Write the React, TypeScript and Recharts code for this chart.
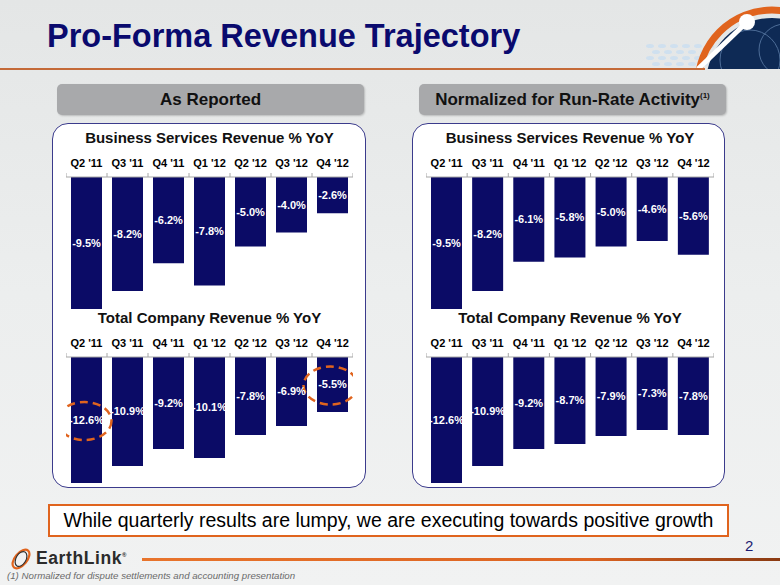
import React from "react"
import { BarChart, Bar, XAxis, YAxis, LabelList, ReferenceDot } from "recharts"

const quarters = ["Q2 '11", "Q3 '11", "Q4 '11", "Q1 '12", "Q2 '12", "Q3 '12", "Q4 '12"]
const reportedBusiness = [-9.5, -8.2, -6.2, -7.8, -5.0, -4.0, -2.6]
const reportedTotal = [-12.6, -10.9, -9.2, -10.1, -7.8, -6.9, -5.5]
const normalizedBusiness = [-9.5, -8.2, -6.1, -5.8, -5.0, -4.6, -5.6]
const normalizedTotal = [-12.6, -10.9, -9.2, -8.7, -7.9, -7.3, -7.8]
const reportedTotalHighlights = ["Q2 '11", "Q4 '12"]

const FONT = "Arial, 'Liberation Sans', sans-serif"
const NAVY = "#0b0b66"
const ORANGE = "#e0641e"

const toRows = (values: number[]) => quarters.map((quarter, i) => ({ quarter, value: values[i] }))

function QuarterTick(props: any) {
  const { x, y, payload, index, band, count } = props
  const axisY = y + 10
  return (
    <g>
      <text x={x} y={y} textAnchor="middle" fontSize={11} fontWeight="bold" fill="#000" fontFamily={FONT}>
        {payload.value}
      </text>
      <line x1={x - band / 2} x2={x - band / 2} y1={axisY} y2={axisY - 4} stroke="#a6a6a6" />
      {index === count - 1 && (
        <line x1={x + band / 2} x2={x + band / 2} y1={axisY} y2={axisY - 4} stroke="#a6a6a6" />
      )}
    </g>
  )
}

function DashedRing(props: any) {
  const { cx, cy } = props
  return (
    <ellipse cx={cx - 2} cy={cy + 1} rx={27} ry={19} fill="none" stroke={ORANGE} strokeWidth={2.5} strokeDasharray="8 5" />
  )
}

interface YoYChartProps {
  title: string
  values: number[]
  min: number
  plotHeight: number
  left: number
  axisY: number
  width: number
  highlights?: string[]
}

function YoYChart({ title, values, min, plotHeight, left, axisY, width, highlights = [] }: YoYChartProps) {
  const rows = toRows(values)
  const band = width / quarters.length
  return (
    <>
      <div
        style={{
          position: "absolute",
          left: left - 20,
          width: width + 40,
          top: axisY - 48,
          textAlign: "center",
          fontFamily: FONT,
          fontWeight: "bold",
          fontSize: 15,
          lineHeight: "18px",
          color: "#111",
        }}
      >
        {title}
      </div>
      <div style={{ position: "absolute", left, top: axisY - 30 }}>
        <BarChart width={width} height={plotHeight + 30} data={rows} margin={{ top: 0, right: 0, bottom: 0, left: 0 }} barSize={31}>
          <XAxis
            dataKey="quarter"
            orientation="top"
            height={30}
            interval={0}
            tickLine={false}
            tickSize={0}
            tickMargin={10}
            axisLine={{ stroke: "#a6a6a6" }}
            tick={(p: any) => <QuarterTick {...p} band={band} count={quarters.length} />}
          />
          <YAxis hide domain={[min, 0]} />
          <Bar dataKey="value" fill={NAVY} isAnimationActive={false}>
            <LabelList
              dataKey="value"
              position="center"
              fill="#fff"
              fontSize={11}
              fontWeight="bold"
              fontFamily={FONT}
              formatter={(v: any) => `${Number(v).toFixed(1)}%`}
            />
          </Bar>
          {highlights.map((q) => {
            const v = values[quarters.indexOf(q)]
            return <ReferenceDot key={q} x={q} y={v / 2} r={0} shape={(p: any) => <DashedRing {...p} />} />
          })}
        </BarChart>
      </div>
    </>
  )
}

const headerBox = (left: number, width: number): React.CSSProperties => ({
  position: "absolute",
  left,
  top: 84,
  width,
  height: 31,
  background: "#a8a9ab",
  borderRadius: 5,
  boxShadow: "1px 1px 2px rgba(0,0,0,0.2)",
  fontFamily: FONT,
  fontWeight: "bold",
  fontSize: 17,
  lineHeight: "31px",
  textAlign: "center",
  color: "#111",
})

const panel = (left: number, width: number): React.CSSProperties => ({
  position: "absolute",
  left,
  top: 123,
  width,
  height: 365,
  background: "#fff",
  border: "1.5px solid #3b3b8c",
  borderRadius: 16,
  boxSizing: "border-box",
})

export default function App() {
  return (
    <div
      style={{
        position: "absolute",
        left: 0,
        top: 0,
        width: 780,
        height: 585,
        overflow: "hidden",
        background: "linear-gradient(180deg, #e4e6e6 0%, #eceeee 50%, #f1f2f2 100%)",
        fontFamily: FONT,
      }}
    >
      {/* globe in the corner */}
      <svg style={{ position: "absolute", left: 600, top: 0 }} width={180} height={69}>
        {[0, 1, 2, 3].map((r) =>
          [0, 1, 2, 3, 4, 5, 6].map((c) => (
            <ellipse key={`${r}-${c}`} cx={50 + c * 12 + (r % 2) * 6} cy={46 + r * 6} rx={4} ry={2} fill="#cfe0ef" />
          ))
        )}
        <circle cx={172} cy={84} r={74} fill="none" stroke={ORANGE} strokeWidth={7} />
        <circle cx={172} cy={84} r={66} fill="#0e2a55" />
        <circle cx={150} cy={60} r={30} fill="none" stroke="#5d7ea8" strokeWidth={0.8} />
        <circle cx={185} cy={50} r={26} fill="none" stroke="#5d7ea8" strokeWidth={0.8} />
        <line x1={98} y1={69} x2={147} y2={22} stroke="#fff" strokeWidth={5} />
        <circle cx={147} cy={22} r={8} fill="#fff" />
      </svg>

      <div
        style={{
          position: "absolute",
          left: 47,
          top: 16,
          fontSize: 32.5,
          fontWeight: "bold",
          color: "#0a0a6e",
          lineHeight: "40px",
          whiteSpace: "nowrap",
        }}
      >
        Pro-Forma Revenue Trajectory
      </div>
      <div style={{ position: "absolute", left: 0, top: 68, width: 705, height: 1.5, background: "#c46a38" }} />

      <div style={headerBox(57, 307)}>As Reported</div>
      <div style={headerBox(419, 307)}>
        Normalized for Run-Rate Activity
        <span style={{ fontSize: 8, lineHeight: 0, position: "relative", top: -7 }}>(1)</span>
      </div>

      <div style={panel(52, 314)} />
      <div style={panel(412, 313)} />

      <YoYChart title="Business Services Revenue % YoY" values={reportedBusiness} min={-10} plotHeight={139} left={66} axisY={177} width={287} />
      <YoYChart
        title="Total Company Revenue % YoY"
        values={reportedTotal}
        min={-13}
        plotHeight={130}
        left={66}
        axisY={357}
        width={287}
        highlights={reportedTotalHighlights}
      />
      <YoYChart title="Business Services Revenue % YoY" values={normalizedBusiness} min={-10} plotHeight={139} left={426} axisY={177} width={288} />
      <YoYChart title="Total Company Revenue % YoY" values={normalizedTotal} min={-13} plotHeight={130} left={426} axisY={357} width={288} />

      <div
        style={{
          position: "absolute",
          left: 48,
          top: 504,
          width: 681,
          height: 33,
          boxSizing: "border-box",
          border: `2px solid ${ORANGE}`,
          background: "#fff",
          fontSize: 19.5,
          lineHeight: "29px",
          textAlign: "center",
          color: "#000",
          whiteSpace: "nowrap",
        }}
      >
        While quarterly results are lumpy, we are executing towards positive growth
      </div>

      <div style={{ position: "absolute", left: 745, top: 537, fontSize: 15, color: "#1a1a70" }}>2</div>

      <svg style={{ position: "absolute", left: 8, top: 548 }} width={28} height={22}>
        <ellipse cx={13} cy={11} rx={11} ry={6} transform="rotate(-50 13 11)" fill="none" stroke={ORANGE} strokeWidth={2.2} />
        <ellipse cx={13} cy={11} rx={5} ry={8} transform="rotate(30 13 11)" fill="none" stroke="#333" strokeWidth={1.2} />
      </svg>
      <div style={{ position: "absolute", left: 36, top: 548, fontSize: 17.5, fontWeight: "bold", color: "#2b2b2b", letterSpacing: 0.6 }}>
        EarthLink<sup style={{ fontSize: 6 }}>®</sup>
      </div>
      <div
        style={{
          position: "absolute",
          left: 142,
          top: 558,
          width: 638,
          height: 3,
          background: "linear-gradient(90deg, #e8742c 0%, #dc6422 70%, #8a3a12 100%)",
        }}
      />
      <div style={{ position: "absolute", left: 7, top: 570, fontSize: 9.7, fontStyle: "italic", color: "#6a6a6a", whiteSpace: "nowrap" }}>
        (1) Normalized for dispute settlements and accounting presentation
      </div>
    </div>
  )
}
